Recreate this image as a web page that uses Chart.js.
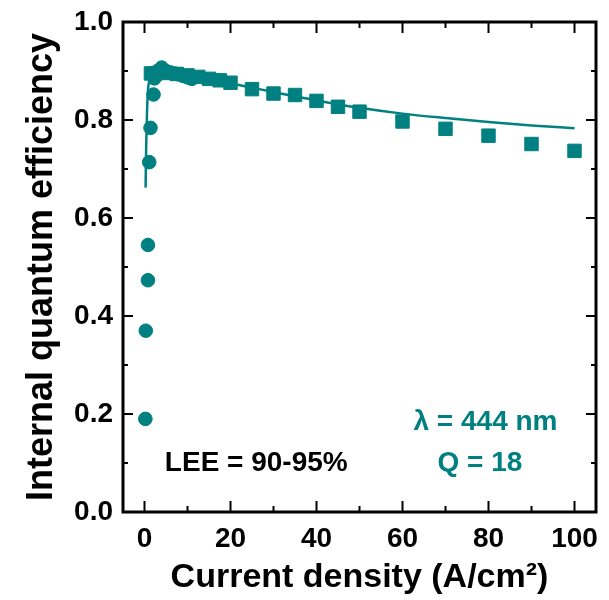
<!DOCTYPE html>
<html>
<head>
<meta charset="utf-8">
<script src="https://cdn.jsdelivr.net/npm/chart.js@4/dist/chart.umd.min.js"></script>
<style>
  html, body { margin: 0; padding: 0; background: #fff; }
  #wrap { width: 609px; height: 600px; }
</style>
</head>
<body>
<div id="wrap"><canvas id="myChart"></canvas></div>
<script>
// measured IQE, low current (circles)
var circleX = [0.2, 0.3, 0.8, 0.8, 1.1, 1.4, 2.1, 2.3, 3, 4, 5, 6, 7, 8, 9, 10, 11];
var circleY = [0.19, 0.37, 0.473, 0.545, 0.714, 0.784, 0.852, 0.885, 0.9, 0.907, 0.9, 0.897, 0.895, 0.893, 0.89, 0.887, 0.884];
// measured IQE, high current (squares)
var squareX = [1.5, 2.5, 5, 7.5, 10, 12.5, 15, 17.5, 20, 25, 30, 35, 40, 45, 50, 60, 70, 80, 90, 100];
var squareY = [0.895, 0.895, 0.896, 0.894, 0.891, 0.888, 0.884, 0.881, 0.876, 0.863, 0.854, 0.851, 0.839, 0.827, 0.817, 0.797, 0.782, 0.768, 0.751, 0.737];
// model curve
var fitX = [0.25, 0.4, 0.6, 0.8, 1, 1.5, 2, 3, 4, 6, 8, 10, 15, 20, 25, 30, 40, 50, 60, 70, 80, 90, 100];
var fitY = [0.662, 0.75, 0.82, 0.86, 0.875, 0.89, 0.897, 0.901, 0.902, 0.9, 0.897, 0.893, 0.884, 0.875, 0.866, 0.857, 0.84, 0.825, 0.813, 0.804, 0.796, 0.789, 0.783];

var xTicks = [0, 20, 40, 60, 80, 100];
var yTicks = [0, 0.2, 0.4, 0.6, 0.8, 1.0];

var teal = '#008080';
var fontFam = '"Liberation Sans", Arial, sans-serif';

function toPoints(xs, ys) {
  return xs.map(function(x, i) { return {x: x, y: ys[i]}; });
}

// box + inward ticks on all four sides
var framePlugin = {
  id: 'frame',
  afterDraw: function(chart) {
    var ctx = chart.ctx, a = chart.chartArea;
    var xs = chart.scales.x, ys = chart.scales.y;
    ctx.save();
    ctx.strokeStyle = '#000';
    ctx.lineWidth = 2;
    ctx.beginPath();
    for (var v = 0; v <= 100; v += 10) {
      var px = xs.getPixelForValue(v);
      var len = (v % 20 === 0) ? 11 : 6;
      ctx.moveTo(px, a.bottom); ctx.lineTo(px, a.bottom - len);
      ctx.moveTo(px, a.top); ctx.lineTo(px, a.top + len);
    }
    for (var k = 0; k <= 10; k++) {
      var py = ys.getPixelForValue(k / 10);
      var l2 = (k % 2 === 0) ? 10 : 5;
      ctx.moveTo(a.left, py); ctx.lineTo(a.left + l2, py);
      ctx.moveTo(a.right, py); ctx.lineTo(a.right - l2, py);
    }
    ctx.stroke();
    ctx.lineWidth = 3;
    ctx.strokeRect(a.left, a.top, a.right - a.left, a.bottom - a.top);

    // annotations
    ctx.font = 'bold 28px ' + fontFam;
    ctx.textAlign = 'center';
    ctx.textBaseline = 'middle';
    ctx.fillStyle = '#000';
    ctx.fillText('LEE = 90-95%', xs.getPixelForValue(26), ys.getPixelForValue(0.1));
    ctx.fillStyle = teal;
    ctx.fillText('\u03BB = 444 nm', xs.getPixelForValue(79.3), ys.getPixelForValue(0.183));
    ctx.fillText('Q = 18', xs.getPixelForValue(78), ys.getPixelForValue(0.1));
    ctx.restore();
  }
};

var ctx = document.getElementById('myChart').getContext('2d');
var chart = new Chart(ctx, {
  type: 'scatter',
  data: {
    datasets: [{
      label: 'fit',
      type: 'line',
      data: toPoints(fitX, fitY),
      borderColor: teal,
      borderWidth: 2.5,
      pointRadius: 0,
      fill: false,
      cubicInterpolationMode: 'monotone',
      order: 0
    }, {
      label: 'low J',
      data: toPoints(circleX, circleY),
      backgroundColor: teal,
      borderColor: teal,
      pointStyle: 'circle',
      pointRadius: 6.8,
      order: 1
    }, {
      label: 'high J',
      data: toPoints(squareX, squareY),
      backgroundColor: teal,
      borderColor: teal,
      pointStyle: 'rect',
      pointRadius: 9.5,
      order: 1
    }]
  },
  options: {
    responsive: true,
    maintainAspectRatio: false,
    animation: false,
    layout: { padding: { top: 22, right: 13, left: 0, bottom: 0 } },
    plugins: { legend: { display: false }, tooltip: { enabled: false } },
    scales: {
      x: {
        type: 'linear',
        min: -5, max: 105,
        grid: { display: false, drawTicks: false },
        border: { display: false },
        afterBuildTicks: function(s) {
          s.ticks = xTicks.map(function(v) { return {value: v}; });
        },
        ticks: {
          autoSkip: false,
          maxRotation: 0,
          padding: 10,
          color: '#000',
          font: { family: fontFam, size: 28, weight: 'bold' }
        },
        title: {
          display: true,
          text: 'Current density (A/cm\u00B2)',
          color: '#000',
          padding: { top: 0, bottom: 2 },
          font: { family: fontFam, size: 34, weight: 'bold' }
        },
        afterFit: function(s) { s.height = 88; s.paddingLeft = 0; s.paddingRight = 0; }
      },
      y: {
        min: 0, max: 1,
        grid: { display: false, drawTicks: false },
        border: { display: false },
        afterBuildTicks: function(s) {
          s.ticks = yTicks.map(function(v) { return {value: v}; });
        },
        ticks: {
          padding: 10,
          color: '#000',
          font: { family: fontFam, size: 28, weight: 'bold' },
          callback: function(v) { return v.toFixed(1); }
        },
        title: {
          display: true,
          text: 'Internal quantum efficiency',
          color: '#000',
          padding: { top: 20, bottom: 0 },
          font: { family: fontFam, size: 36, weight: 'bold' }
        },
        afterFit: function(s) { s.width = 123; s.paddingTop = 0; s.paddingBottom = 0; }
      }
    }
  },
  plugins: [framePlugin]
});
</script>
</body>
</html>
